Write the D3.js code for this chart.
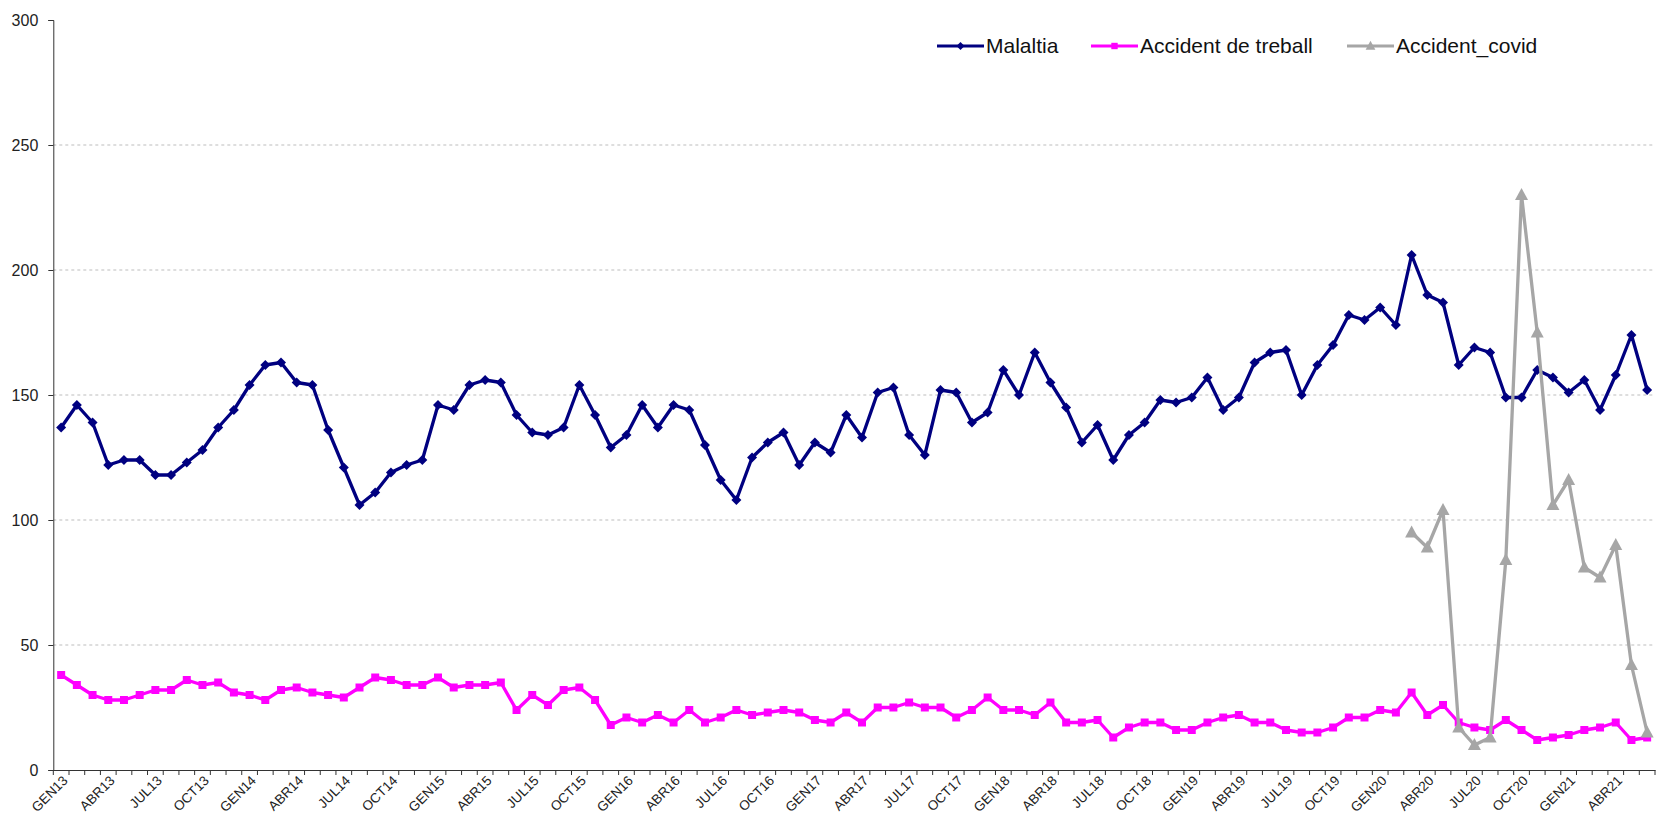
<!DOCTYPE html>
<html>
<head>
<meta charset="utf-8">
<script src="https://cdn.jsdelivr.net/npm/d3@7"></script>
<style>
  html, body { margin: 0; padding: 0; background: #fff; }
  svg { display: block; font-family: "Liberation Sans", Arial, sans-serif; }
</style>
</head>
<body>
<svg id="chart" width="1657" height="816"></svg>
<script>
// ---- data ----
const monthNames = ["GEN","FEB","MAR","ABR","MAI","JUN","JUL","AGO","SET","OCT","NOV","DES"];
const yearNames = ["13","14","15","16","17","18","19","20","21"];
const lastCategory = "JUN21";
const categories = [];
outer: for (const yy of yearNames) {
  for (const mm of monthNames) {
    categories.push(mm + yy);
    if (mm + yy === lastCategory) break outer;
  }
}
const tickMonths = ["GEN","ABR","JUL","OCT"];
const tickLabels = categories.filter(c => tickMonths.includes(c.slice(0, 3)));
const yTicks = [0, 50, 100, 150, 200, 250, 300];

const malaltia = [137,146,139,122,124,124,118,118,123,128,137,144,154,162,163,155,154,136,121,106,
  111,119,122,124,146,144,154,156,155,142,135,134,137,154,142,129,134,146,137,146,
  144,130,116,108,125,131,135,122,131,127,142,133,151,153,134,126,152,151,139,143,
  160,150,167,155,145,131,138,124,134,139,148,147,149,157,144,149,163,167,168,150,
  162,170,182,180,185,178,206,190,187,162,169,167,149,149,160,157,151,156,144,158,
  174,152];

const treball = [38,34,30,28,28,30,32,32,36,34,35,31,30,28,32,33,31,30,29,33,
  37,36,34,34,37,33,34,34,35,24,30,26,32,33,28,18,21,19,22,19,
  24,19,21,24,22,23,24,23,20,19,23,19,25,25,27,25,25,21,24,29,
  24,24,22,27,19,19,20,13,17,19,19,16,16,19,21,22,19,19,16,15,
  15,17,21,21,24,23,31,22,26,19,17,16,20,16,12,13,14,16,17,19,
  12,13];

const covidStart = "MAR20";
const covid = [95,89,104,17,10,13,84,230,175,106,116,81,77,90,42,15];

const seriesNames = ["Malaltia", "Accident de treball", "Accident_covid"];

// ---- layout ----
const svg = d3.select("#chart");
const plotLeft = 53.3, plotRight = 1655, plotTop = 20, plotBottom = 770;

const x = d3.scaleBand().domain(categories).range([plotLeft, plotRight]).padding(0);
const bw = x.bandwidth();
const cx = c => x(c) + bw / 2;
const y = d3.scaleLinear().domain([0, 300]).range([plotBottom, plotTop]);

// gridlines
svg.append("g").selectAll("line")
  .data(yTicks.filter(v => v > 0 && v < 300))
  .join("line")
  .attr("x1", plotLeft).attr("x2", plotRight)
  .attr("y1", d => y(d)).attr("y2", d => y(d))
  .attr("stroke", "#bdbdbd").attr("stroke-width", 1)
  .attr("stroke-dasharray", "3,3");

// y axis
const yAxis = svg.append("g")
  .attr("transform", `translate(${plotLeft},0)`)
  .call(d3.axisLeft(y).tickValues(yTicks).tickSize(5).tickPadding(10));
yAxis.selectAll("path, line").attr("stroke", "#333");
yAxis.selectAll("text").attr("font-size", 16).attr("fill", "#222")
  .attr("font-family", "Liberation Sans, Arial, sans-serif");

// x axis
const xAxis = svg.append("g")
  .attr("transform", `translate(0,${plotBottom})`)
  .call(d3.axisBottom(x).tickValues(tickLabels).tickSize(0).tickPadding(0));
xAxis.select(".domain").attr("stroke", "#333");
xAxis.selectAll("text")
  .attr("font-size", 13.5).attr("fill", "#222")
  .attr("font-family", "Liberation Sans, Arial, sans-serif")
  .attr("x", 0).attr("y", 0).attr("dy", "0.35em")
  .attr("text-anchor", "end")
  .attr("transform", "translate(4,8) rotate(-45)");
// tick marks at category boundaries
svg.append("g").selectAll("line")
  .data(categories.concat(["__end"]))
  .join("line")
  .attr("x1", (d, i) => plotLeft + i * bw).attr("x2", (d, i) => plotLeft + i * bw)
  .attr("y1", plotBottom).attr("y2", plotBottom + 5)
  .attr("stroke", "#333").attr("stroke-width", 1);

// series data
const malData = categories.map((c, i) => ({c, v: malaltia[i]}));
const trebData = categories.map((c, i) => ({c, v: treball[i]}));
const startIdx = categories.indexOf(covidStart);
const covData = covid.map((v, i) => ({c: categories[startIdx + i], v}));

const line = d3.line().x(d => cx(d.c)).y(d => y(d.v));

const diamond = "M0,-5L5,0L0,5L-5,0Z";
const square = "M-4,-4H4V4H-4Z";
const triangle = "M0,-7L6.5,5L-6.5,5Z";

const series = [
  {data: malData, color: "#000080", marker: diamond},
  {data: trebData, color: "#FF00FF", marker: square},
  {data: covData, color: "#A6A6A6", marker: triangle}
];

series.forEach(s => {
  const g = svg.append("g");
  g.append("path").datum(s.data)
    .attr("d", line).attr("fill", "none")
    .attr("stroke", s.color).attr("stroke-width", 3.3)
    .attr("stroke-linejoin", "round");
  g.selectAll("path.m").data(s.data).join("path")
    .attr("class", "m")
    .attr("d", s.marker)
    .attr("transform", d => `translate(${cx(d.c)},${y(d.v)})`)
    .attr("fill", s.color);
});

// legend
const legendX = [937, 1091, 1347];
const legend = svg.append("g");
seriesNames.forEach((name, i) => {
  const s = series[i];
  const g = legend.append("g").attr("transform", `translate(${legendX[i]},46)`);
  g.append("line").attr("x1", 0).attr("x2", 47).attr("y1", 0).attr("y2", 0)
    .attr("stroke", s.color).attr("stroke-width", 3);
  g.append("path").attr("d", s.marker).attr("fill", s.color)
    .attr("transform", i === 2 ? "translate(23.5,0) scale(0.75)" : "translate(23.5,0) scale(0.8)");
  g.append("text").attr("x", 49).attr("y", 0).attr("dy", "0.35em")
    .attr("font-size", 21).attr("fill", "#111").text(name);
});
</script>
</body>
</html>
